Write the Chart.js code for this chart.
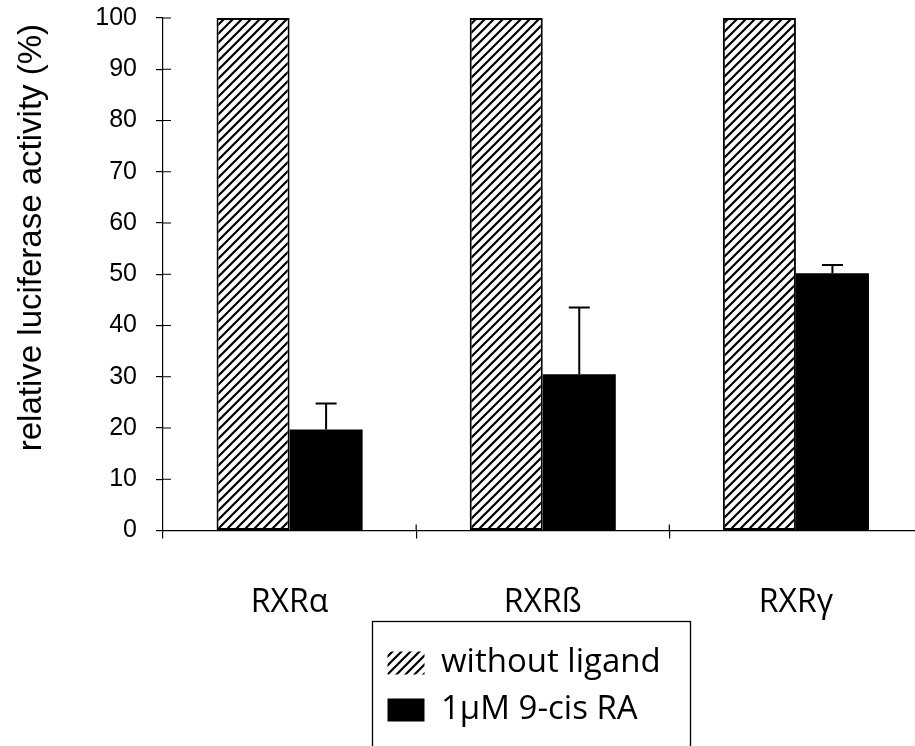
<!DOCTYPE html>
<html>
<head>
<meta charset="utf-8">
<script src="https://cdn.jsdelivr.net/npm/chart.js@4.4.1/dist/chart.umd.min.js"></script>
<style>
html,body{margin:0;padding:0;background:#fff;overflow:hidden;width:915px;height:746px}
#wrap{position:relative;width:925px;height:746px}
</style>
</head>
<body>
<div id="wrap"><canvas id="c"></canvas></div>
<script>
// ---- data ----
const categories = ['RXRα', 'RXRß', 'RXRγ'];
const seriesNames = ['without ligand', '1μM 9-cis RA'];
const withoutLigand = [100, 100, 100];
const cisRA = [19.7, 30.5, 50.2];
const cisRAErrorUp = [5.1, 13.0, 1.6];
const yTickValues = [0, 10, 20, 30, 40, 50, 60, 70, 80, 90, 100];
const yTitle = 'relative luciferase activity (%)';

// ---- hatch pattern ----
function makeHatch() {
  const s = 9;
  const c = document.createElement('canvas');
  c.width = s; c.height = s;
  const g = c.getContext('2d');
  g.fillStyle = '#fff'; g.fillRect(0, 0, s, s);
  g.strokeStyle = '#000'; g.lineWidth = 2.2;
  g.beginPath();
  g.moveTo(-1, s + 1); g.lineTo(s + 1, -1);
  g.moveTo(-s / 2 - 1, s / 2 + 1); g.lineTo(s / 2 + 1, -s / 2 - 1);
  g.moveTo(s / 2 - 1, 1.5 * s + 1); g.lineTo(1.5 * s + 1, s / 2 - 1);
  g.stroke();
  return g.createPattern(c, 'repeat');
}
const hatch = makeHatch();

// ---- plugins ----
const legendPlace = {
  id: 'legendPlace',
  afterLayout(chart) {
    const lg = chart.legend, a = chart.chartArea;
    if (!lg) return;
    lg.left = a.left + 210.5; lg.top = 632.5;
    lg.right = lg.left + 350; lg.bottom = 820;
    lg.width = lg.right - lg.left; lg.height = lg.bottom - lg.top;
  }
};

const errorBars = {
  id: 'errorBars',
  afterDatasetsDraw(chart) {
    const ctx = chart.ctx, y = chart.scales.y;
    const meta = chart.getDatasetMeta(1);
    ctx.save();
    ctx.strokeStyle = '#000'; ctx.lineWidth = 2;
    meta.data.forEach((bar, i) => {
      const top = y.getPixelForValue(cisRA[i] + cisRAErrorUp[i]);
      ctx.beginPath();
      ctx.moveTo(bar.x, bar.y); ctx.lineTo(bar.x, top);
      ctx.moveTo(bar.x - 10.5, top); ctx.lineTo(bar.x + 10.5, top);
      ctx.stroke();
    });
    ctx.restore();
  }
};

const axisDecor = {
  id: 'axisDecor',
  afterDraw(chart) {
    const {ctx, chartArea: a, scales: {x, y}} = chart;
    ctx.save();
    ctx.strokeStyle = '#000'; ctx.lineWidth = 1.2;
    ctx.beginPath();
    y.ticks.forEach(t => {
      const py = y.getPixelForValue(t.value);
      ctx.moveTo(a.left, py); ctx.lineTo(a.left + 8, py);
    });
    for (let i = 1; i < categories.length; i++) {
      const px = x.getPixelForValue(i - 0.5);
      ctx.moveTo(px, a.bottom); ctx.lineTo(px, a.bottom - 6);
    }
    ctx.stroke();
    const lg = chart.legend;
    ctx.lineWidth = 1.3;
    ctx.strokeRect(lg.left - 1, lg.top - 11, 318, 200);
    ctx.restore();
  }
};

new Chart(document.getElementById('c'), {
  type: 'bar',
  data: {
    labels: categories,
    datasets: [
      { label: seriesNames[0], data: withoutLigand, backgroundColor: hatch,
        borderColor: '#000', borderWidth: 2, borderSkipped: false },
      { label: seriesNames[1], data: cisRA, backgroundColor: '#000',
        borderColor: '#000', borderWidth: 0 }
    ]
  },
  options: {
    animation: false,
    responsive: true,
    maintainAspectRatio: false,
    layout: { padding: { top: 18, right: 2.5, left: 0, bottom: 0 } },
    datasets: { bar: { categoryPercentage: 0.577, barPercentage: 1 } },
    scales: {
      x: {
        grid: { offset: true, drawOnChartArea: false, drawTicks: true, tickLength: 8, color: '#000', lineWidth: 1.2 },
        border: { color: '#000', width: 1.2 },
        ticks: { color: '#000', font: { family: 'Open Sans', size: 32 }, padding: 45 },
        afterFit(s) { s.height = 746 - 530.5; }
      },
      y: {
        min: 0, max: 100,
        afterBuildTicks(s) { s.ticks = yTickValues.map(v => ({ value: v })); },
        grid: { drawOnChartArea: false, drawTicks: true, tickLength: 7, color: '#000', lineWidth: 1.2 },
        border: { color: '#000', width: 1.2 },
        ticks: { color: '#000', font: { family: 'Liberation Sans', size: 25 }, padding: 19 },
        title: { display: true, text: '        ' + yTitle, color: '#000',
                 font: { family: 'Liberation Sans', size: 33 }, padding: { top: 12, bottom: 0 } },
        afterFit(s) { s.width = 163; s.paddingTop = 0; s.paddingBottom = 0; }
      }
    },
    plugins: {
      legend: {
        position: 'chartArea', align: 'start',
        labels: {
          color: '#000', font: { family: 'Open Sans', size: 33 },
          boxWidth: 37, boxHeight: 23, padding: 14,
          generateLabels(chart) {
            const items = Chart.defaults.plugins.legend.labels.generateLabels(chart);
            items.forEach(it => { it.lineWidth = 0; });
            return items;
          }
        }
      },
      tooltip: { enabled: false }
    }
  },
  plugins: [legendPlace, errorBars, axisDecor]
});
</script>
</body>
</html>
